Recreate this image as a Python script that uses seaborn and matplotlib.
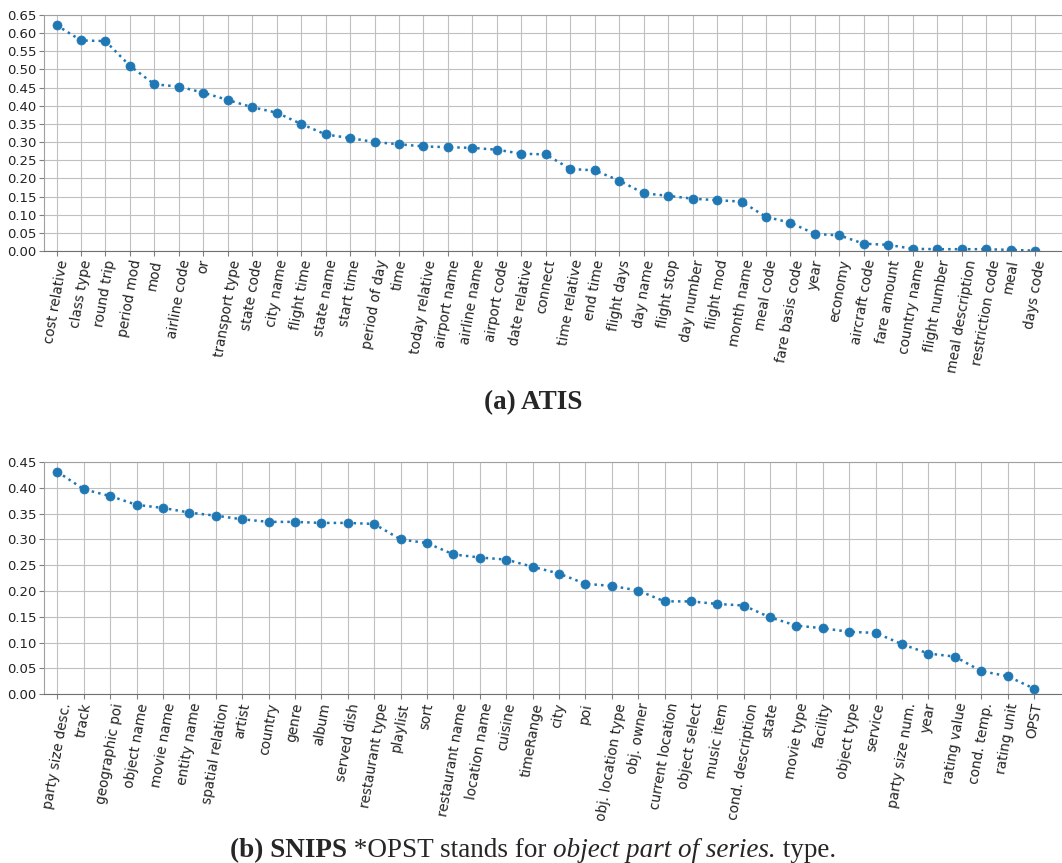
import numpy as np
import pandas as pd
import matplotlib
matplotlib.use("Agg")
import matplotlib.pyplot as plt
import seaborn as sns

atis_labels = ["cost relative", "class type", "round trip", "period mod", "mod", "airline code", "or",
               "transport type", "state code", "city name", "flight time", "state name", "start time",
               "period of day", "time", "today relative", "airport name", "airline name", "airport code",
               "date relative", "connect", "time relative", "end time", "flight days", "day name",
               "flight stop", "day number", "flight mod", "month name", "meal code", "fare basis code",
               "year", "economy", "aircraft code", "fare amount", "country name", "flight number",
               "meal description", "restriction code", "meal", "days code"]
atis_values = [0.622, 0.580, 0.578, 0.510, 0.459, 0.453, 0.436, 0.416, 0.396, 0.381, 0.350, 0.321,
               0.311, 0.300, 0.294, 0.288, 0.286, 0.284, 0.279, 0.268, 0.266, 0.226, 0.222, 0.194,
               0.159, 0.152, 0.144, 0.140, 0.136, 0.094, 0.078, 0.047, 0.043, 0.020, 0.017, 0.006,
               0.005, 0.005, 0.005, 0.003, 0.001]

snips_labels = ["party size desc.", "track", "geographic poi", "object name", "movie name", "entity name",
                "spatial relation", "artist", "country", "genre", "album", "served dish", "restaurant type",
                "playlist", "sort", "restaurant name", "location name", "cuisine", "timeRange", "city",
                "poi", "obj. location type", "obj. owner", "current location", "object select",
                "music item", "cond. description", "state", "movie type", "facility", "object type",
                "service", "party size num.", "year", "rating value", "cond. temp.", "rating unit", "OPST"]
snips_values = [0.431, 0.397, 0.384, 0.367, 0.361, 0.352, 0.346, 0.339, 0.334, 0.334, 0.332, 0.332,
                0.330, 0.300, 0.293, 0.271, 0.265, 0.261, 0.247, 0.234, 0.214, 0.210, 0.201, 0.180,
                0.180, 0.175, 0.172, 0.149, 0.133, 0.128, 0.121, 0.119, 0.097, 0.079, 0.073, 0.045,
                0.035, 0.011]

atis_yticks = [0.00, 0.05, 0.10, 0.15, 0.20, 0.25, 0.30, 0.35, 0.40, 0.45, 0.50, 0.55, 0.60, 0.65]
snips_yticks = [0.00, 0.05, 0.10, 0.15, 0.20, 0.25, 0.30, 0.35, 0.40, 0.45]

sns.set_style("whitegrid", {"grid.color": "#c0c0c0", "axes.edgecolor": "#a0a0a0",
                            "xtick.bottom": True, "ytick.left": True})
plt.rcParams["font.family"] = ["DejaVu Sans"]
plt.rcParams["xtick.color"] = "#808080"
plt.rcParams["ytick.color"] = "#808080"
plt.rcParams["xtick.labelcolor"] = "#222222"
plt.rcParams["ytick.labelcolor"] = "#222222"

fig = plt.figure(figsize=(10.62, 8.63), dpi=100)
W, H = 1062, 863

def make_axes(left, top, bottom):
    return fig.add_axes([left / W, 1 - bottom / H, 1 - left / W, (bottom - top) / H])

color = "#1f77b4"

def draw(ax, labels, values, yticks, xright):
    df = pd.DataFrame({"pos": np.arange(len(labels)), "val": values})
    sns.lineplot(data=df, x="pos", y="val", ax=ax, sort=False, color=color,
                 linestyle=":", linewidth=1.8, marker="o", markersize=6.5,
                 markeredgecolor=color, markeredgewidth=0.5)
    ax.set_xticks(np.arange(len(labels)))
    ax.set_xticklabels(labels, rotation=80, ha="center", fontsize=9.8)
    ax.set_yticks(yticks)
    ax.set_yticklabels([f"{v:.2f}" for v in yticks], fontsize=9.5)
    ax.set_ylim(yticks[0], yticks[-1])
    ax.set_xlim(-0.5, xright)
    ax.set_xlabel("")
    ax.set_ylabel("")
    ax.grid(True, linewidth=0.8)
    ax.spines["right"].set_visible(False)
    ax.spines["bottom"].set_color("#707070")
    ax.tick_params(axis="both", length=3.5, width=0.8, pad=2)

ax1 = make_axes(44.3, 15, 251)
draw(ax1, atis_labels, atis_values, atis_yticks, 41.1)
ax2 = make_axes(44.3, 462, 694.3)
draw(ax2, snips_labels, snips_values, snips_yticks, 38.06)

serif = ["Liberation Serif", "DejaVu Serif"]
cap_size = 19.5
fig.text(533 / W, 1 - 409 / H, "(a) ATIS", ha="center", va="baseline", fontsize=cap_size,
         fontweight="bold", family=serif)

base_y = 1 - 857 / H
parts = [("(b) SNIPS", dict(fontweight="bold")),
         (" *OPST stands for ", {}),
         ("object part of series.", dict(style="italic")),
         (" type.", {})]
texts = [fig.text(0, base_y, s, fontsize=cap_size, family=serif, va="baseline", ha="left", **kw)
         for s, kw in parts]
fig.canvas.draw()
r = fig.canvas.get_renderer()
widths = [t.get_window_extent(r).width for t in texts]
x = 533 - sum(widths) / 2
for t, w in zip(texts, widths):
    t.set_position((x / W, base_y))
    x += w

fig.savefig("out.png", dpi=100)
